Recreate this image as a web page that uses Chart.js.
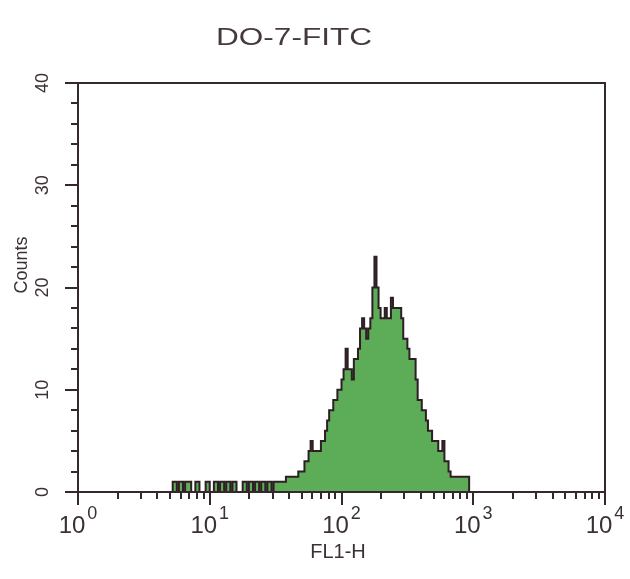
<!DOCTYPE html>
<html>
<head>
<meta charset="utf-8">
<script src="https://cdn.jsdelivr.net/npm/chart.js@4.4.1/dist/chart.umd.min.js"></script>
<style>
  body { margin: 0; background: #fff; }
  canvas { display: block; }
</style>
</head>
<body>
<canvas id="histo" width="630" height="579"></canvas>
<script>
const titleText = "DO-7-FITC";
const xTitle = "FL1-H";
const yTitle = "Counts";
const decadeExponents = [0, 1, 2, 3, 4];
const yTickLabels = [0, 10, 20, 30, 40];

const channelsPerDecade = 64;
const firstChannel = 46;
const counts = [
  0, 1, 1, 0, 1, 1, 0, 1, 1, 1,       // 46-55
  0, 0, 1, 1, 0, 0, 0, 1, 1, 0,       // 56-65
  0, 1, 1, 0, 1, 1, 0, 1, 1, 0,       // 66-75
  1, 1, 0, 0, 0, 1, 1, 0, 1, 1,       // 76-85
  0, 1, 1, 0, 1, 1, 0, 1, 1, 0,       // 86-95
  1, 1, 1, 1, 1, 1, 1.5, 1.5, 1.5, 1.5, // 96-105
  1.5, 1.5, 2, 2, 2, 3, 3, 4, 5, 4,   // 106-115
  4, 4, 4, 5, 5, 6, 7, 8, 8, 9,       // 116-125
  9, 10, 10, 11, 12, 14, 12, 12, 11, 13, // 126-135
  13, 14, 16, 17, 16, 15, 16, 17, 20, 23, // 136-145
  20, 18, 17, 17, 18, 17, 17, 19, 18, 18, // 146-155
  18, 18, 17, 15, 15, 14, 13, 13, 13, 11, // 156-165
  9, 9, 8, 8, 7, 6, 6, 5, 5, 5,       // 166-175
  4, 4, 5, 3, 3, 2, 1.5, 1.5, 1.5, 1.5, // 176-185
  1.5, 1.5, 1.5, 1.5, 1.5, 0          // 186-191
];

const fillColor = "#5cac58";
const lineColor = "#2e1f25";
const frameColor = "#35272d";
const textColor = "#3b3036";

const points = [{ x: 1, y: 0 }];
counts.forEach((c, i) => {
  points.push({ x: Math.pow(10, (firstChannel + i) / channelsPerDecade), y: c });
});
points.push({ x: 10000, y: 0 });

const axisDecor = {
  id: "axisDecor",
  afterDraw(chart) {
    const { ctx, chartArea: a, scales: { x, y } } = chart;
    ctx.save();

    // frame
    ctx.strokeStyle = frameColor;
    ctx.lineWidth = 2;
    ctx.strokeRect(a.left, a.top, a.right - a.left, a.bottom - a.top);

    // x ticks (log, minor at 2..9)
    ctx.beginPath();
    for (let e = 0; e < 4; e++) {
      for (let m = 2; m < 10; m++) {
        const px = Math.round(x.getPixelForValue(m * Math.pow(10, e)));
        ctx.moveTo(px, a.bottom);
        ctx.lineTo(px, a.bottom + 7);
      }
    }
    decadeExponents.forEach(e => {
      const px = Math.round(x.getPixelForValue(Math.pow(10, e)));
      ctx.moveTo(px, a.bottom);
      ctx.lineTo(px, a.bottom + 13);
    });
    // y ticks, minor every 2
    for (let v = 0; v <= 40; v += 2) {
      const py = Math.round(y.getPixelForValue(v));
      ctx.moveTo(a.left, py);
      ctx.lineTo(a.left - (v % 10 === 0 ? 13 : 7), py);
    }
    ctx.stroke();

    ctx.fillStyle = textColor;

    // x tick labels 10^n
    const baseFont = "24px 'Liberation Sans', Arial, sans-serif";
    const supFont = "18px 'Liberation Sans', Arial, sans-serif";
    decadeExponents.forEach(e => {
      const px = x.getPixelForValue(Math.pow(10, e));
      ctx.font = baseFont;
      const wBase = ctx.measureText("10").width;
      ctx.font = supFont;
      const wSup = ctx.measureText(String(e)).width;
      const start = px - (wBase + 2 + wSup) / 2;
      ctx.textAlign = "left";
      ctx.textBaseline = "alphabetic";
      ctx.font = baseFont;
      ctx.fillText("10", start, 533);
      ctx.font = supFont;
      ctx.fillText(String(e), start + wBase + 2, 519);
    });

    // y tick labels, rotated
    ctx.font = "18px 'Liberation Sans', Arial, sans-serif";
    ctx.textAlign = "center";
    ctx.textBaseline = "middle";
    yTickLabels.forEach(v => {
      const py = y.getPixelForValue(v);
      ctx.save();
      ctx.translate(43, py);
      ctx.rotate(-Math.PI / 2);
      ctx.fillText(String(v), 0, 0);
      ctx.restore();
    });

    // axis titles
    ctx.textBaseline = "alphabetic";
    ctx.font = "20px 'Liberation Sans', Arial, sans-serif";
    ctx.fillText(xTitle, 338, 558);
    ctx.font = "18px 'Liberation Sans', Arial, sans-serif";
    ctx.save();
    ctx.translate(27, 265);
    ctx.rotate(-Math.PI / 2);
    ctx.fillText(yTitle, 0, 0);
    ctx.restore();

    // chart title, wide lettering as in the original
    ctx.fillStyle = "#45393f";
    ctx.font = "23px 'Liberation Sans', Arial, sans-serif";
    const tw = ctx.measureText(titleText).width;
    ctx.save();
    ctx.translate(294, 45);
    ctx.scale(156 / tw, 1);
    ctx.fillText(titleText, 0, 0);
    ctx.restore();

    ctx.restore();
  }
};

new Chart(document.getElementById("histo"), {
  type: "line",
  data: {
    datasets: [{
      data: points,
      stepped: "after",
      fill: "origin",
      backgroundColor: fillColor,
      borderColor: lineColor,
      borderWidth: 2,
      pointRadius: 0,
      clip: 3
    }]
  },
  options: {
    responsive: false,
    animation: false,
    layout: { padding: { left: 78, right: 25, top: 83, bottom: 87 } },
    plugins: { legend: { display: false }, tooltip: { enabled: false } },
    scales: {
      x: { type: "logarithmic", min: 1, max: 10000, display: false },
      y: { type: "linear", min: 0, max: 40, display: false }
    }
  },
  plugins: [axisDecor]
});
</script>
</body>
</html>
